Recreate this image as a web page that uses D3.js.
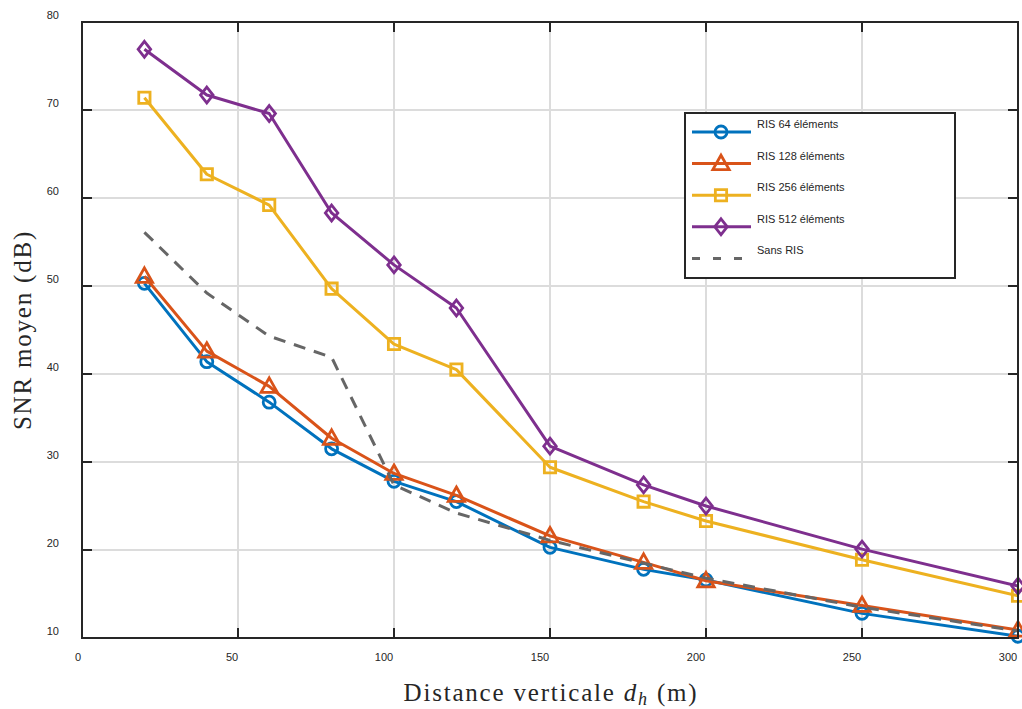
<!DOCTYPE html>
<html>
<head>
<meta charset="utf-8">
<script src="https://cdn.jsdelivr.net/npm/d3@7"></script>
<style>
  html, body { margin: 0; padding: 0; background: #fff; }
  svg { display: block; }
</style>
</head>
<body>
<svg id="chart" width="1022" height="709"></svg>
<script>
// ---- Data ----
const distances = [20, 40, 60, 80, 100, 120, 150, 180, 200, 250, 300];
const ris64  = [50.3, 41.4, 36.8, 31.5, 27.8, 25.5, 20.3, 17.8, 16.6, 12.8, 10.2];
const ris128 = [51.1, 42.6, 38.6, 32.7, 28.7, 26.2, 21.6, 18.6, 16.5, 13.7, 10.9];
const ris256 = [71.4, 62.7, 59.2, 49.7, 43.4, 40.5, 29.4, 25.5, 23.3, 18.9, 14.8];
const ris512 = [76.9, 71.7, 69.6, 58.3, 52.4, 47.5, 31.8, 27.4, 25.0, 20.1, 15.9];
const sansRIS = [56.1, 49.2, 44.3, 41.9, 27.4, 24.2, 21.1, 18.5, 16.8, 13.5, 10.8];
const seriesNames = ["RIS 64 éléments", "RIS 128 éléments", "RIS 256 éléments", "RIS 512 éléments", "Sans RIS"];
const xTicks = [0, 50, 100, 150, 200, 250, 300];
const yTicks = [10, 20, 30, 40, 50, 60, 70, 80];

const series = [
  {name: seriesNames[0], values: ris64,  color: "#0072BD", marker: "circle"},
  {name: seriesNames[1], values: ris128, color: "#D95319", marker: "triangle"},
  {name: seriesNames[2], values: ris256, color: "#EDB120", marker: "square"},
  {name: seriesNames[3], values: ris512, color: "#7E2F8E", marker: "diamond"},
  {name: seriesNames[4], values: sansRIS, color: "#666666", marker: null, dash: "12,9"}
];

const svg = d3.select("#chart");
const L = 82, R = 1018, T = 22, B = 638;
const x = d3.scaleLinear().domain([0, 300]).range([L, R]);
const y = d3.scaleLinear().domain([10, 80]).range([B, T]);
const axisColor = "#262626";

// grid
const grid = svg.append("g");
grid.selectAll(".gx").data(xTicks.slice(1, -1)).enter().append("line")
  .attr("x1", d => x(d)).attr("x2", d => x(d)).attr("y1", T).attr("y2", B)
  .attr("stroke", "#dcdcdc").attr("stroke-width", 2);
grid.selectAll(".gy").data(yTicks.slice(1, -1)).enter().append("line")
  .attr("y1", d => y(d)).attr("y2", d => y(d)).attr("x1", L).attr("x2", R)
  .attr("stroke", "#dcdcdc").attr("stroke-width", 2);

const lineGen = d3.line().x((d, i) => x(distances[i])).y(d => y(d));
const plot = svg.append("g");

function markerPath(type, s) {
  if (type === "circle") return d3.symbol().type(d3.symbolCircle).size(Math.PI * s * s / 4)();
  if (type === "triangle") {
    return `M0,${-s * 0.7}L${s * 0.68},${s * 0.5}L${-s * 0.68},${s * 0.5}Z`;
  }
  if (type === "square") { const a = s * 0.47; return `M${-a},${-a}L${a},${-a}L${a},${a}L${-a},${a}Z`; }
  if (type === "diamond") { const a = s * 0.52, b = s * 0.66; return `M0,${-b}L${a},0L0,${b}L${-a},0Z`; }
  return "";
}

series.forEach(s => {
  plot.append("path").datum(s.values)
    .attr("d", lineGen)
    .attr("fill", "none")
    .attr("stroke", s.color)
    .attr("stroke-width", 3)
    .attr("stroke-dasharray", s.dash || null)
    .attr("stroke-linejoin", "round");
  if (s.marker) {
    plot.selectAll(null).data(s.values).enter().append("path")
      .attr("transform", (d, i) => `translate(${x(distances[i])},${y(d)})`)
      .attr("d", markerPath(s.marker, 12))
      .attr("fill", "none")
      .attr("stroke", s.color)
      .attr("stroke-width", 2.8);
  }
});

// box
svg.append("rect").attr("x", L).attr("y", T).attr("width", R - L).attr("height", B - T)
  .attr("fill", "none").attr("stroke", axisColor).attr("stroke-width", 2);

// ticks (inward)
const tk = svg.append("g").attr("stroke", axisColor).attr("stroke-width", 2);
xTicks.forEach(t => {
  tk.append("line").attr("x1", x(t)).attr("x2", x(t)).attr("y1", B).attr("y2", B - 10);
  tk.append("line").attr("x1", x(t)).attr("x2", x(t)).attr("y1", T).attr("y2", T + 10);
});
yTicks.forEach(t => {
  tk.append("line").attr("y1", y(t)).attr("y2", y(t)).attr("x1", L).attr("x2", L + 10);
  tk.append("line").attr("y1", y(t)).attr("y2", y(t)).attr("x1", R).attr("x2", R - 10);
});

// tick labels
const fontSans = "Liberation Sans, Arial, sans-serif";
svg.append("g").selectAll("text").data(xTicks).enter().append("text")
  .attr("x", (d, i) => x(d) - (i === 0 ? 4 : i === 1 ? 6 : 10))
  .attr("y", 661)
  .attr("text-anchor", "middle")
  .attr("font-family", fontSans).attr("font-size", 11).attr("fill", axisColor)
  .text(d => d);
svg.append("g").selectAll("text").data(yTicks).enter().append("text")
  .attr("x", 59)
  .attr("y", d => y(d) - 3)
  .attr("text-anchor", "end")
  .attr("font-family", fontSans).attr("font-size", 11).attr("fill", axisColor)
  .text(d => d);

// axis labels
const fontSerif = "Liberation Serif, 'DejaVu Serif', serif";
const xl = svg.append("text").attr("x", 551).attr("y", 701)
  .attr("text-anchor", "middle").attr("font-family", fontSerif).attr("font-size", 25)
  .attr("letter-spacing", 1.8).attr("fill", axisColor);
xl.append("tspan").text("Distance verticale ");
xl.append("tspan").attr("font-style", "italic").text("d");
xl.append("tspan").attr("font-style", "italic").attr("font-size", 18).attr("dy", 4).text("h");
xl.append("tspan").attr("dy", -4).text(" (m)");

svg.append("text")
  .attr("transform", "translate(31,330) rotate(-90)")
  .attr("text-anchor", "middle").attr("font-family", fontSerif).attr("font-size", 25)
  .attr("letter-spacing", 1.8).attr("fill", axisColor)
  .text("SNR moyen (dB)");

// legend
const lg = svg.append("g");
lg.append("rect").attr("x", 685).attr("y", 113).attr("width", 270).attr("height", 165)
  .attr("fill", "#fff").attr("stroke", axisColor).attr("stroke-width", 2);
series.forEach((s, i) => {
  const ly = 132 + i * 31.6;
  lg.append("line").attr("x1", 692).attr("x2", 751).attr("y1", ly).attr("y2", ly)
    .attr("stroke", s.color).attr("stroke-width", 3).attr("stroke-dasharray", s.dash ? "8,13" : null);
  if (s.marker) {
    lg.append("path").attr("transform", `translate(721,${ly})`)
      .attr("d", markerPath(s.marker, 12)).attr("fill", "none")
      .attr("stroke", s.color).attr("stroke-width", 2.8);
  }
  lg.append("text").attr("x", 757).attr("y", ly - 4)
    .attr("font-family", fontSans).attr("font-size", 11).attr("fill", axisColor)
    .text(s.name);
});
</script>
</body>
</html>
